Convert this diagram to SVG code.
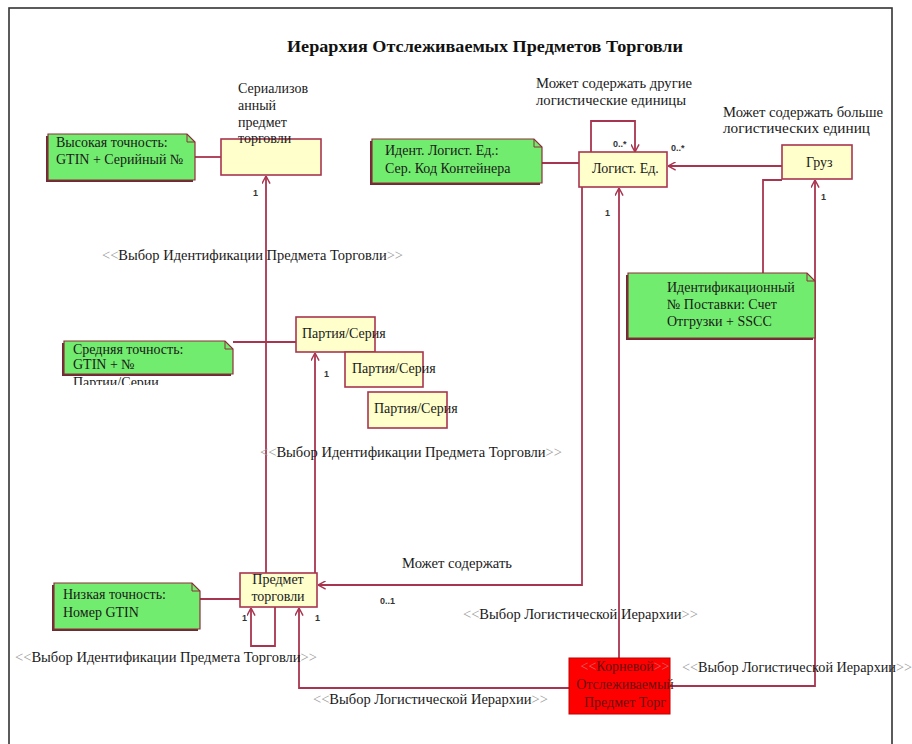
<svg xmlns="http://www.w3.org/2000/svg" width="912" height="744" viewBox="0 0 912 744">
  <defs>
    <style>
      .frame { fill: none; stroke: #333; stroke-width: 1.6; }
      .box { fill: #ffffcc; stroke: #a8354f; stroke-width: 1.6; }
      .root { fill: #ff0000; stroke: #c00000; stroke-width: 1; }
      .note { fill: #72ec6e; stroke: #8f2c3a; stroke-width: 1.2; }
      .shadow { fill: #6a2d33; }
      .fold { fill: none; stroke: #8f2c3a; stroke-width: 1; }
      .link { fill: none; stroke: #a8354f; stroke-width: 1.8; }
      .arr { fill: none; stroke: #a8354f; stroke-width: 1.8; marker-end: url(#open); }
      .t { font-family: 'Liberation Serif', serif; font-size: 14px; fill: #1a1a1a; }
      .title { font-family: 'Liberation Serif', serif; font-size: 17px; font-weight: bold; fill: #111; }
      .m { font-family: 'Liberation Sans', sans-serif; font-size: 9px; font-weight: bold; fill: #333; }
      .g { fill: #9a9a9a; }
      .rt { font-family: 'Liberation Serif', serif; font-size: 14px; fill: #6a0f0f; text-anchor: middle; }
      .rg { fill: #d86a6a; }
    </style>
    <marker id="open" viewBox="0 0 10 10" refX="9.5" refY="5" markerWidth="9" markerHeight="9" markerUnits="userSpaceOnUse" orient="auto">
      <path d="M1,0.5 L9.5,5 L1,9.5" fill="none" stroke="#a8354f" stroke-width="1.6"/>
    </marker>
    <clipPath id="clipMid">
      <rect x="0" y="330" width="300" height="55"/>
    </clipPath>
  </defs>

  <rect class="frame" x="9" y="8" width="883" height="760"/>

  <text class="title" x="287" y="52" textLength="396" lengthAdjust="spacingAndGlyphs">Иерархия Отслеживаемых Предметов Торговли</text>

  <!-- connectors -->
  <g id="connectors">
    <path class="arr" d="M266,573 V176"/>
    <path class="arr" d="M315,573 V353"/>
    <path class="arr" d="M582,187 V585 H318"/>
    <path class="arr" d="M619,658 V188"/>
    <path class="arr" d="M670,686 H815 V180"/>
    <path class="arr" d="M569,688 H299 V608"/>
    <path class="arr" d="M275,607 V646 H251 V608"/>
    <path class="arr" d="M591,152 V121 H635 V152"/>
    <path class="arr" d="M782,166 H668"/>
    <path class="link" d="M195,157 H221"/>
    <path class="link" d="M542,163 H579"/>
    <path class="link" d="M233,342 H296"/>
    <path class="link" d="M200,599 H240"/>
    <path class="link" d="M782,180 H763 V273"/>

    <text class="m" x="253" y="196">1</text>
    <text class="m" x="324" y="377">1</text>
    <text class="m" x="242" y="621">1</text>
    <text class="m" x="315" y="621">1</text>
    <text class="m" x="380" y="604">0..1</text>
    <text class="m" x="605" y="216">1</text>
    <text class="m" x="821" y="200">1</text>
    <text class="m" x="613" y="147">0..*</text>
    <text class="m" x="671" y="151">0..*</text>

    <text class="t" x="102" y="260" textLength="301" lengthAdjust="spacingAndGlyphs"><tspan class="g">&lt;&lt;</tspan>Выбор Идентификации Предмета Торговли<tspan class="g">&gt;&gt;</tspan></text>
    <text class="t" x="260" y="457" textLength="302" lengthAdjust="spacingAndGlyphs"><tspan class="g">&lt;&lt;</tspan>Выбор Идентификации Предмета Торговли<tspan class="g">&gt;&gt;</tspan></text>
    <text class="t" x="15" y="662" textLength="302" lengthAdjust="spacingAndGlyphs"><tspan class="g">&lt;&lt;</tspan>Выбор Идентификации Предмета Торговли<tspan class="g">&gt;&gt;</tspan></text>
    <text class="t" x="463" y="619" textLength="235" lengthAdjust="spacingAndGlyphs"><tspan class="g">&lt;&lt;</tspan>Выбор Логистической Иерархии<tspan class="g">&gt;&gt;</tspan></text>
    <text class="t" x="682" y="672" textLength="230" lengthAdjust="spacingAndGlyphs"><tspan class="g">&lt;&lt;</tspan>Выбор Логистической Иерархии<tspan class="g">&gt;&gt;</tspan></text>
    <text class="t" x="313" y="704" textLength="235" lengthAdjust="spacingAndGlyphs"><tspan class="g">&lt;&lt;</tspan>Выбор Логистической Иерархии<tspan class="g">&gt;&gt;</tspan></text>
    <text class="t" x="402" y="568" textLength="110" lengthAdjust="spacingAndGlyphs">Может содержать</text>
    <text class="t" x="536" y="88" textLength="156" lengthAdjust="spacingAndGlyphs">Может содержать другие</text>
    <text class="t" x="536" y="105" textLength="150" lengthAdjust="spacingAndGlyphs">логистические единицы</text>
    <text class="t" x="723" y="117" textLength="160" lengthAdjust="spacingAndGlyphs">Может содержать больше</text>
    <text class="t" x="723" y="133" textLength="147" lengthAdjust="spacingAndGlyphs">логистических единиц</text>
  </g>

  <!-- classes -->
  <g id="serialized">
    <rect class="box" x="221" y="139" width="100" height="36"/>
    <text class="t" x="238" y="93">Сериализов</text>
    <text class="t" x="238" y="110">анный</text>
    <text class="t" x="238" y="127">предмет</text>
    <text class="t" x="238" y="143">торговли</text>
  </g>

  <g id="logistic-unit">
    <rect class="box" x="579" y="152" width="88" height="35"/>
    <text class="t" x="592" y="173">Логист. Ед.</text>
  </g>

  <g id="shipment">
    <rect class="box" x="782" y="145" width="70" height="34"/>
    <text class="t" x="806" y="167">Груз</text>
  </g>

  <g id="batch-1">
    <rect class="box" x="296" y="317" width="79" height="35"/>
    <text class="t" x="302" y="338">Партия/Серия</text>
  </g>
  <g id="batch-2">
    <rect class="box" x="345" y="352" width="78" height="35"/>
    <text class="t" x="352" y="373">Партия/Серия</text>
  </g>
  <g id="batch-3">
    <rect class="box" x="368" y="392" width="79" height="36"/>
    <text class="t" x="374" y="413">Партия/Серия</text>
  </g>

  <g id="trade-item">
    <rect class="box" x="240" y="573" width="77" height="34"/>
    <text class="t" x="278" y="584" text-anchor="middle">Предмет</text>
    <text class="t" x="278" y="601" text-anchor="middle">торговли</text>
  </g>

  <g id="root-item">
    <rect class="root" x="569" y="658" width="101" height="56"/>
    <text class="rt" x="625" y="671"><tspan class="rg">&lt;&lt;</tspan>Корневой<tspan class="rg">&gt;&gt;</tspan></text>
    <text class="rt" x="625" y="689">Отслеживаемый</text>
    <text class="rt" x="625" y="707">Предмет Торг</text>
  </g>

  <!-- notes -->
  <g id="note-high">
    <path class="shadow" d="M46,136 H186 L193,143 V182 H46 Z"/>
    <path class="note" d="M48,134 H187 L195,142 V180 H48 Z"/>
    <path class="fold" d="M187,134 V142 H195"/>
    <text class="t" x="56" y="147">Высокая точность:</text>
    <text class="t" x="56" y="164">GTIN + Серийный №</text>
  </g>

  <g id="note-container">
    <path class="shadow" d="M370,141 H533 L540,148 V185 H370 Z"/>
    <path class="note" d="M372,139 H534 L542,147 V183 H372 Z"/>
    <path class="fold" d="M534,139 V147 H542"/>
    <text class="t" x="385" y="155">Идент. Логист. Ед.:</text>
    <text class="t" x="385" y="173">Сер. Код Контейнера</text>
  </g>

  <g id="note-shipment">
    <path class="shadow" d="M626,275 H806 L813,282 V340 H626 Z"/>
    <path class="note" d="M628,273 H807 L815,281 V338 H628 Z"/>
    <path class="fold" d="M807,273 V281 H815"/>
    <text class="t" x="667" y="292">Идентификационный</text>
    <text class="t" x="667" y="309">№ Поставки: Счет</text>
    <text class="t" x="667" y="326">Отгрузки + SSCC</text>
  </g>

  <g id="note-medium">
    <path class="shadow" d="M62,343 H224 L231,350 V376 H62 Z"/>
    <path class="note" d="M64,341 H225 L233,349 V374 H64 Z"/>
    <path class="fold" d="M225,341 V349 H233"/>
    <text class="t" x="73" y="354">Средняя точность:</text>
    <text class="t" x="73" y="369">GTIN + №</text>
    <text class="t" x="73" y="387" clip-path="url(#clipMid)">Партии/Серии</text>
  </g>

  <g id="note-low">
    <path class="shadow" d="M52,585 H191 L198,592 V631 H52 Z"/>
    <path class="note" d="M54,583 H192 L200,591 V629 H54 Z"/>
    <path class="fold" d="M192,583 V591 H200"/>
    <text class="t" x="63" y="599">Низкая точность:</text>
    <text class="t" x="63" y="617">Номер GTIN</text>
  </g>
</svg>
